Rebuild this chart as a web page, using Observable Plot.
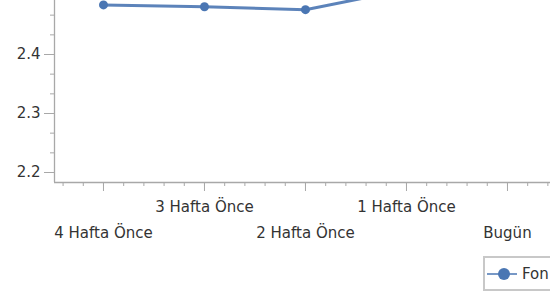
<!DOCTYPE html>
<html>
<head>
<meta charset="utf-8">
<script src="https://cdn.jsdelivr.net/npm/d3@7"></script>
<script src="https://cdn.jsdelivr.net/npm/@observablehq/plot@0.6"></script>
<style>
  html, body { margin: 0; padding: 0; background: #fff; }
  #wrap { position: relative; width: 550px; height: 297px; overflow: hidden; font-family: "DejaVu Sans", Verdana, sans-serif; }
  #chart { position: absolute; left: 0; top: -80px; }
  #legend { position: absolute; left: 483px; top: 256px; width: 80px; height: 35px; border: 2px solid #c8c8c8; box-sizing: border-box; display: flex; align-items: center; }
  #legend span { font-size: 15px; color: #333; margin-left: 3px; }
</style>
</head>
<body>
<div id="wrap">
  <div id="chart"></div>
  <div id="legend"></div>
</div>
<script>
const categories = ["4 Hafta Önce", "3 Hafta Önce", "2 Hafta Önce", "1 Hafta Önce", "Bugün"];
const fonValues = [2.484, 2.481, 2.476, 2.51, 2.52];
const yTicks = [2.2, 2.3, 2.4];
const seriesName = "Fon";

const lineColor = "#4a76b3";
const axisColor = "#a8a8a8";
const textColor = "#333";

const data = categories.map((c, i) => ({i, c, v: fonValues[i]}));
const yMinor = d3.range(0, 9).map(k => +(2.2 + k * 0.1 / 3).toFixed(4));
const xMinor = d3.range(-2, 23).map(k => k / 5).filter(v => v > -0.485 && v < 4.43);

const T = 80;
const H = 297 + T;
const base = 2.2 - 10 / 590;
const x0 = -0.485;

const chart = Plot.plot({
  width: 550,
  height: H,
  marginLeft: 54,
  marginRight: 0,
  marginTop: 0,
  marginBottom: H - (182 + T),
  style: {fontFamily: "DejaVu Sans, Verdana, sans-serif", fontSize: "15px", color: textColor, background: "transparent", overflow: "visible"},
  x: {domain: [x0, 4.426], axis: null, label: null},
  y: {domain: [2.2, 2.6], range: [172 + T, 172 + T - 236], axis: null, label: null},
  marks: [
    Plot.ruleX([x0], {y1: base, y2: 2.6, stroke: axisColor, strokeWidth: 1.3}),
    Plot.ruleY([base], {stroke: axisColor, strokeWidth: 1.3}),
    Plot.ruleY(yMinor, {y: d => d, x1: x0 - 4 / 101, x2: x0, stroke: axisColor}),
    Plot.axisY({ticks: yTicks, label: null, tickSize: 10, tickPadding: 4, tickFormat: d => d.toFixed(1), stroke: axisColor, fill: textColor, fontSize: 15}),
    Plot.ruleX(xMinor, {x: d => d, y1: base, y2: base - 4 / 590, stroke: axisColor}),
    Plot.ruleX(data, {x: "i", y1: base, y2: base - 9 / 590, stroke: axisColor}),
    Plot.text(data.filter(d => d.i % 2 === 1), {x: "i", y: 2.2, text: "c", dy: 35, fill: textColor, fontSize: 15}),
    Plot.text(data.filter(d => d.i % 2 === 0), {x: "i", y: 2.2, text: "c", dy: 61, fill: textColor, fontSize: 15}),
    Plot.line(data, {x: "i", y: "v", stroke: lineColor, strokeWidth: 3, strokeOpacity: 0.9}),
    Plot.dot(data, {x: "i", y: "v", r: 4.5, fill: lineColor})
  ]
});
document.getElementById("chart").appendChild(chart);

const lg = document.getElementById("legend");
lg.innerHTML = `<svg width="34" height="16"><line x1="2" y1="8" x2="32" y2="8" stroke="${lineColor}" stroke-width="1.5"/><circle cx="19" cy="8" r="6" fill="${lineColor}"/></svg><span>${seriesName}</span>`;
</script>
</body>
</html>
